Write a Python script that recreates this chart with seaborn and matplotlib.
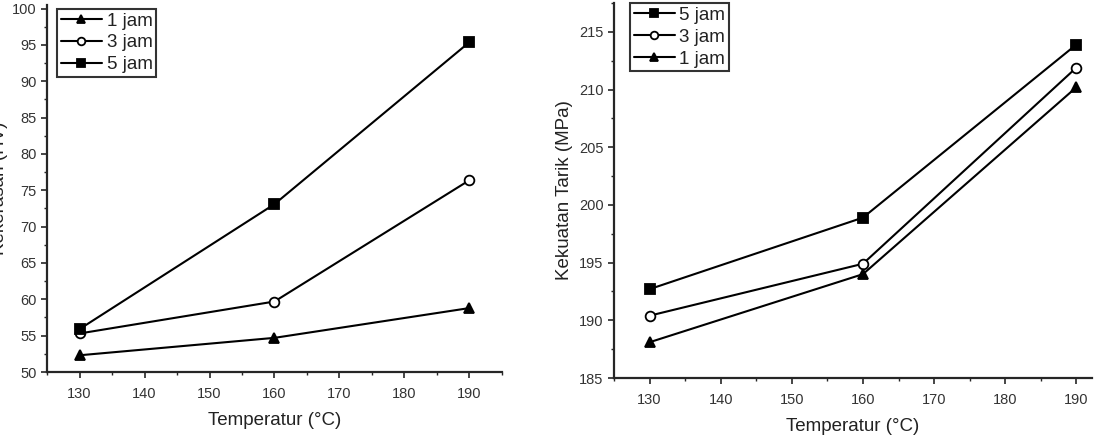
import matplotlib
matplotlib.use('Agg')

import pandas as pd
import seaborn as sns
import matplotlib.pyplot as plt
from matplotlib.ticker import MultipleLocator

sns.set_style("ticks")
plt.rcParams['font.family'] = ['Liberation Sans', 'DejaVu Sans']

temperatur = [130, 160, 190]

# kekerasan (HV)
hv_1jam = [52.3, 54.7, 58.8]
hv_3jam = [55.3, 59.7, 76.4]
hv_5jam = [55.9, 73.1, 95.4]

# kekuatan tarik (MPa)
uts_5jam = [192.7, 198.9, 213.9]
uts_3jam = [190.4, 194.9, 211.9]
uts_1jam = [188.1, 194.0, 210.2]

def long_df(series):
    rows = []
    for name, vals in series:
        for t, v in zip(temperatur, vals):
            rows.append({'T': t, 'val': v, 'waktu': name})
    return pd.DataFrame(rows)

hv_df = long_df([('1 jam', hv_1jam), ('3 jam', hv_3jam), ('5 jam', hv_5jam)])
uts_df = long_df([('5 jam', uts_5jam), ('3 jam', uts_3jam), ('1 jam', uts_1jam)])

markers = {'1 jam': '^', '3 jam': 'o', '5 jam': 's'}
mfc = {'1 jam': 'black', '3 jam': 'white', '5 jam': 'black'}
pal = {'1 jam': 'black', '3 jam': 'black', '5 jam': 'black'}

fig = plt.figure(figsize=(10.97, 4.47), dpi=100)
ax1 = fig.add_axes([47/1097, 75/447, 455/1097, 367/447])
ax2 = fig.add_axes([614/1097, 69/447, 478/1097, 375/447])


def draw(ax, df, order, anchor):
    sns.lineplot(data=df, x='T', y='val', hue='waktu', style='waktu',
                 hue_order=order, style_order=order, palette=pal,
                 markers=markers, dashes=False, linewidth=1.5,
                 markersize=7, markeredgewidth=1.3, ax=ax)
    # marker face colours per series
    for line, name in zip(ax.lines, order):
        line.set_markerfacecolor(mfc[name])
        line.set_markeredgecolor('black')
    handles, labels = ax.get_legend_handles_labels()
    for h, name in zip(handles, labels):
        h.set_markerfacecolor(mfc[name])
        h.set_markeredgecolor('black')
        h.set_color('black')
        h.set_markersize(5.5)
    leg = ax.legend(handles, labels, loc='upper left', bbox_to_anchor=anchor,
                    fontsize=13.5, frameon=True, fancybox=False,
                    edgecolor='black', borderpad=0.2, labelspacing=0.25,
                    handlelength=2.2, handletextpad=0.25, borderaxespad=0)
    leg.get_frame().set_linewidth(1.5)
    for t in leg.get_texts():
        t.set_color('#222222')
    ax.set_xlim(125, 195)
    ax.xaxis.set_major_locator(MultipleLocator(10))
    ax.xaxis.set_minor_locator(MultipleLocator(5))
    ax.set_xlabel('Temperatur (°C)', fontsize=13.5, color='#222222',
                  labelpad=8)
    for s in ['left', 'bottom']:
        ax.spines[s].set_linewidth(1.6)
    sns.despine(ax=ax)
    ax.tick_params(which='major', length=4, width=1.2, labelsize=10.5,
                   labelcolor='#333333')
    ax.tick_params(axis='x', which='major', pad=7)
    ax.tick_params(which='minor', length=2.5, width=1.0)


draw(ax1, hv_df, ['1 jam', '3 jam', '5 jam'], (0.022, 0.99))
ax1.set_ylim(50, 100.5)
ax1.yaxis.set_major_locator(MultipleLocator(5))
ax1.yaxis.set_minor_locator(MultipleLocator(2.5))
ax1.set_ylabel('Kekerasan (HV)', fontsize=13.5, color='#222222')
ax1.yaxis.set_label_coords(-0.085, 0.5)

draw(ax2, uts_df, ['5 jam', '3 jam', '1 jam'], (0.033, 1.0))
ax2.set_xlim(125, 192.2)
ax2.set_ylim(185, 217.5)
ax2.yaxis.set_major_locator(MultipleLocator(5))
ax2.yaxis.set_minor_locator(MultipleLocator(2.5))
ax2.set_ylabel('Kekuatan Tarik (MPa)', fontsize=13.5, color='#222222')

fig.savefig('out.png', dpi=100)
